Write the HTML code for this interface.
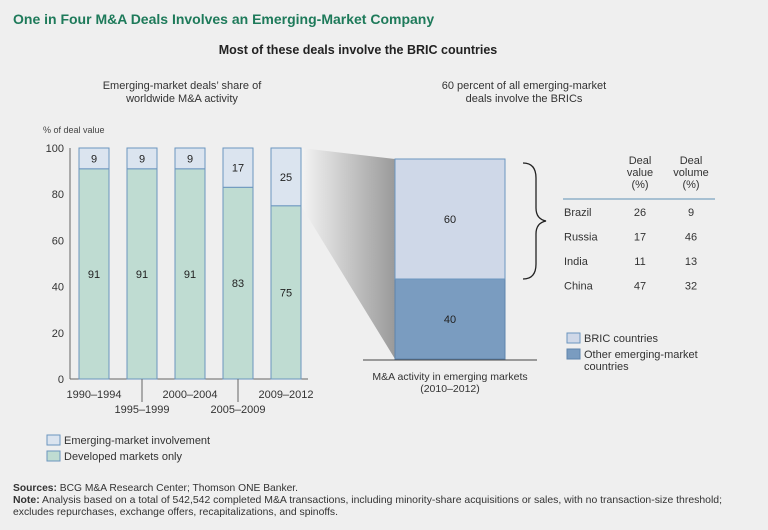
<!DOCTYPE html>
<html><head><meta charset="utf-8"><style>
html,body{margin:0;padding:0;background:#efefef;}
svg{display:block;font-family:"Liberation Sans",sans-serif;}
</style></head><body>
<svg id="chart" width="768" height="530" viewBox="0 0 768 530" xmlns="http://www.w3.org/2000/svg">
<rect width="768" height="530" fill="#efefef"/>
<text x="13" y="24" font-size="14" font-weight="bold" fill="#1e7a5a">One in Four M&amp;A Deals Involves an Emerging-Market Company</text>
<text x="358" y="54" font-size="12.5" font-weight="bold" fill="#222" text-anchor="middle">Most of these deals involve the BRIC countries</text>
<text x="182" y="89" font-size="11" fill="#333" text-anchor="middle">Emerging-market deals’ share of</text>
<text x="182" y="102" font-size="11" fill="#333" text-anchor="middle">worldwide M&amp;A activity</text>
<text x="524" y="89" font-size="11" fill="#333" text-anchor="middle">60 percent of all emerging-market</text>
<text x="524" y="102" font-size="11" fill="#333" text-anchor="middle">deals involve the BRICs</text>
<text x="43" y="133" font-size="9" fill="#444">% of deal value</text>
<defs><linearGradient id="fun" x1="0" x2="1" y1="0" y2="0"><stop offset="0" stop-color="#f4f4f4"/><stop offset="1" stop-color="#9a9a9a"/></linearGradient></defs>
<g id="funnel"></g>
<g id="left"></g>
<g id="right"></g>
<text x="450" y="380" font-size="10.5" fill="#333" text-anchor="middle">M&amp;A activity in emerging markets</text>
<text x="450" y="392" font-size="10.5" fill="#333" text-anchor="middle">(2010–2012)</text>
<path d="M523,163 Q536,163 536,178 L536,208 Q536,219 546,221 Q536,223 536,234 L536,264 Q536,279 523,279" fill="none" stroke="#222" stroke-width="1.3"/>
<g id="table"></g>
<g>
<rect x="47" y="435" width="13" height="10" fill="#dbe4ef" stroke="#6b96bf"/>
<text x="64" y="444" font-size="11" fill="#333">Emerging-market involvement</text>
<rect x="47" y="451" width="13" height="10" fill="#bfdcd2" stroke="#6b96bf"/>
<text x="64" y="460" font-size="11" fill="#333">Developed markets only</text>
</g>
<g>
<rect x="567" y="333" width="13" height="10" fill="#cfd8e8" stroke="#6b96bf"/>
<text x="584" y="342" font-size="11" fill="#333">BRIC countries</text>
<rect x="567" y="349" width="13" height="10" fill="#7a9cc0" stroke="#5f85ad"/>
<text x="584" y="358" font-size="11" fill="#333">Other emerging-market</text>
<text x="584" y="370" font-size="11" fill="#333">countries</text>
</g>
<text x="13" y="491" font-size="10.3" fill="#333" textLength="285" lengthAdjust="spacingAndGlyphs"><tspan font-weight="bold">Sources:</tspan> BCG M&amp;A Research Center; Thomson ONE Banker.</text>
<text x="13" y="503" font-size="10.3" fill="#333" textLength="709" lengthAdjust="spacingAndGlyphs"><tspan font-weight="bold">Note:</tspan>  Analysis based on a total of 542,542 completed M&amp;A transactions, including minority-share acquisitions or sales, with no transaction-size threshold;</text>
<text x="13" y="515" font-size="10.3" fill="#333" textLength="325" lengthAdjust="spacingAndGlyphs">excludes repurchases, exchange offers, recapitalizations, and spinoffs.</text>
</svg>
<script>
const categories = ["1990–1994","1995–1999","2000–2004","2005–2009","2009–2012"];
const developed = [91,91,91,83,75];
const emerging = [9,9,9,17,25];
const yTicks = [0,20,40,60,80,100];
const bricShare = [60];
const otherShare = [40];
const countries = ["Brazil","Russia","India","China"];
const dealValue = [26,17,11,47];
const dealVolume = [9,46,13,32];

const NS = "http://www.w3.org/2000/svg";
function mk(tag, attrs, parent, txt){const e=document.createElementNS(NS,tag);for(const k in attrs)e.setAttribute(k,attrs[k]);if(txt!==undefined)e.textContent=txt;parent.appendChild(e);return e;}
const y = v => 379 - v*2.31;
const x = i => 79 + i*48;
const bw = 30;
const L = document.getElementById('left');
let ax = mk('line',{x1:70,x2:70,y1:148,y2:379,stroke:'#666','stroke-width':1},L);


let bx = mk('line',{x1:70,x2:308,y1:379,y2:379,stroke:'#666','stroke-width':1},L);


yTicks.forEach(t=>{
  const tl = mk('text',{x:64,y:y(t)+4,'font-size':11,fill:'#333','text-anchor':'end'},L,t);
  
  
});
categories.forEach((c,i)=>{
  const x0=x(i);
  const d = mk('rect',{x:x0,y:y(developed[i]),width:bw,height:y(0)-y(developed[i]),fill:'#bfdcd2',stroke:'#6b96bf','stroke-width':1},L);
  
  
  const e = mk('rect',{x:x0,y:y(developed[i]+emerging[i]),width:bw,height:y(developed[i])-y(developed[i]+emerging[i]),fill:'#dbe4ef',stroke:'#6b96bf','stroke-width':1},L);
  
  
  const t1 = mk('text',{x:x0+bw/2,y:(y(0)+y(developed[i]))/2+4,'font-size':11,fill:'#222','text-anchor':'middle'},L,developed[i]);
  
  
  const t2 = mk('text',{x:x0+bw/2,y:(y(developed[i])+y(developed[i]+emerging[i]))/2+4,'font-size':11,fill:'#222','text-anchor':'middle'},L,emerging[i]);
  
  
  const low = i%2===1;
  if(low){const tk=mk('line',{x1:x0+bw/2,x2:x0+bw/2,y1:379,y2:402,stroke:'#666'},L);
    
    }
  const cl = mk('text',{x:x0+bw/2,y:low?413:398,'font-size':11,fill:'#333','text-anchor':'middle'},L,c);
  
  
});
const last = categories.length-1;
const ry0 = 359, rh = 2.0;
const ry = v => ry0 - v*rh;
const F = document.getElementById('funnel');
const fp = mk('polygon',{points:`${x(last)+bw},${y(100)} 395,${ry(100)} 395,${ry0} ${x(last)+bw},${y(developed[last])}`,fill:'url(#fun)'},F);


const R = document.getElementById('right');
const o = mk('rect',{x:395,y:ry(otherShare[0]),width:110,height:ry0-ry(otherShare[0]),fill:'#7a9cc0',stroke:'#5f85ad'},R);


const b = mk('rect',{x:395,y:ry(otherShare[0]+bricShare[0]),width:110,height:ry(otherShare[0])-ry(otherShare[0]+bricShare[0]),fill:'#cfd8e8',stroke:'#6b96bf'},R);


const ot = mk('text',{x:450,y:(ry0+ry(otherShare[0]))/2+4,'font-size':11,fill:'#222','text-anchor':'middle'},R,otherShare[0]);


const bt = mk('text',{x:450,y:(ry(otherShare[0])+ry(otherShare[0]+bricShare[0]))/2+4,'font-size':11,fill:'#222','text-anchor':'middle'},R,bricShare[0]);


const bl = mk('line',{x1:363,x2:537,y1:360,y2:360,stroke:'#444'},R);


const T = document.getElementById('table');
[["Deal","value","(%)",640],["Deal","volume","(%)",691]].forEach(h=>{
  h.slice(0,3).forEach((s,j)=>{const ht=mk('text',{x:h[3],y:164+j*12,'font-size':11,fill:'#333','text-anchor':'middle'},T,s);
    
    });
});
const tl = mk('line',{x1:563,x2:715,y1:199,y2:199,stroke:'#8fb0c8','stroke-width':1.5},T);


countries.forEach((c,i)=>{
  const yy = 216 + i*24.5;
  const n = mk('text',{x:564,y:yy,'font-size':11,fill:'#333'},T,c);
  
  
  const v1 = mk('text',{x:640,y:yy,'font-size':11,fill:'#333','text-anchor':'middle'},T,dealValue[i]);
  
  
  const v2 = mk('text',{x:691,y:yy,'font-size':11,fill:'#333','text-anchor':'middle'},T,dealVolume[i]);
  
  
});
</script>
</body></html>
